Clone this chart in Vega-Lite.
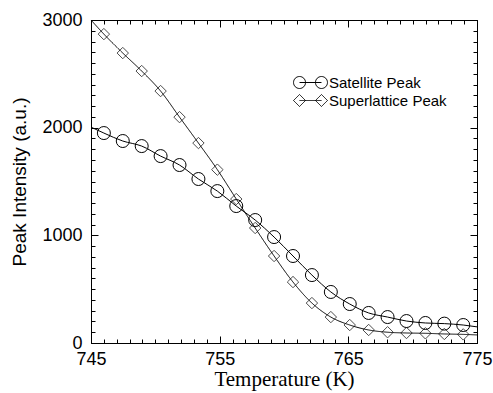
{
  "$schema": "https://vega.github.io/schema/vega-lite/v6.json",
  "width": 386,
  "height": 323,
  "autosize": {"type": "none"},
  "padding": {"left": 91, "top": 20, "right": 16, "bottom": 50},
  "background": "white",
  "config": {
    "view": {"stroke": null},
    "axis": {
      "ticks": false,
      "domainColor": "black",
      "domainWidth": 1,
      "labelColor": "black",
      "titleColor": "black",
      "gridColor": "black",
      "gridWidth": 1,
      "gridOpacity": 1,
      "labelFont": "Liberation Sans",
      "labelFontSize": 18,
      "labelOverlap": false,
      "labelFlush": false,
      "titleFontWeight": "normal"
    }
  },
  "data": {
    "values": [
      {"series": "Satellite Peak", "kind": "end", "T": 745, "I": 2005},
      {"series": "Satellite Peak", "kind": "pt", "T": 746.0, "I": 1950},
      {"series": "Satellite Peak", "kind": "pt", "T": 747.47, "I": 1876},
      {"series": "Satellite Peak", "kind": "pt", "T": 748.94, "I": 1829},
      {"series": "Satellite Peak", "kind": "pt", "T": 750.41, "I": 1736},
      {"series": "Satellite Peak", "kind": "pt", "T": 751.88, "I": 1653},
      {"series": "Satellite Peak", "kind": "pt", "T": 753.35, "I": 1523},
      {"series": "Satellite Peak", "kind": "pt", "T": 754.82, "I": 1411},
      {"series": "Satellite Peak", "kind": "pt", "T": 756.29, "I": 1272},
      {"series": "Satellite Peak", "kind": "pt", "T": 757.76, "I": 1142},
      {"series": "Satellite Peak", "kind": "pt", "T": 759.23, "I": 984},
      {"series": "Satellite Peak", "kind": "pt", "T": 760.7, "I": 808},
      {"series": "Satellite Peak", "kind": "pt", "T": 762.17, "I": 631},
      {"series": "Satellite Peak", "kind": "pt", "T": 763.64, "I": 474},
      {"series": "Satellite Peak", "kind": "pt", "T": 765.11, "I": 362},
      {"series": "Satellite Peak", "kind": "pt", "T": 766.58, "I": 279},
      {"series": "Satellite Peak", "kind": "pt", "T": 768.05, "I": 241},
      {"series": "Satellite Peak", "kind": "pt", "T": 769.52, "I": 204},
      {"series": "Satellite Peak", "kind": "pt", "T": 770.99, "I": 186},
      {"series": "Satellite Peak", "kind": "pt", "T": 772.46, "I": 180},
      {"series": "Satellite Peak", "kind": "pt", "T": 773.93, "I": 167},
      {"series": "Satellite Peak", "kind": "end", "T": 775, "I": 150},
      {"series": "Superlattice Peak", "kind": "end", "T": 745, "I": 3000},
      {"series": "Superlattice Peak", "kind": "pt", "T": 746.0, "I": 2869},
      {"series": "Superlattice Peak", "kind": "pt", "T": 747.47, "I": 2693},
      {"series": "Superlattice Peak", "kind": "pt", "T": 748.94, "I": 2526},
      {"series": "Superlattice Peak", "kind": "pt", "T": 750.41, "I": 2340},
      {"series": "Superlattice Peak", "kind": "pt", "T": 751.88, "I": 2098},
      {"series": "Superlattice Peak", "kind": "pt", "T": 753.35, "I": 1857},
      {"series": "Superlattice Peak", "kind": "pt", "T": 754.82, "I": 1610},
      {"series": "Superlattice Peak", "kind": "pt", "T": 756.29, "I": 1337},
      {"series": "Superlattice Peak", "kind": "pt", "T": 757.76, "I": 1068},
      {"series": "Superlattice Peak", "kind": "pt", "T": 759.23, "I": 808},
      {"series": "Superlattice Peak", "kind": "pt", "T": 760.7, "I": 566},
      {"series": "Superlattice Peak", "kind": "pt", "T": 762.17, "I": 371},
      {"series": "Superlattice Peak", "kind": "pt", "T": 763.64, "I": 241},
      {"series": "Superlattice Peak", "kind": "pt", "T": 765.11, "I": 167},
      {"series": "Superlattice Peak", "kind": "pt", "T": 766.58, "I": 121},
      {"series": "Superlattice Peak", "kind": "pt", "T": 768.05, "I": 100},
      {"series": "Superlattice Peak", "kind": "pt", "T": 769.52, "I": 93},
      {"series": "Superlattice Peak", "kind": "pt", "T": 770.99, "I": 90},
      {"series": "Superlattice Peak", "kind": "pt", "T": 772.46, "I": 84},
      {"series": "Superlattice Peak", "kind": "pt", "T": 773.93, "I": 80},
      {"series": "Superlattice Peak", "kind": "end", "T": 775, "I": 75}
    ]
  },
  "layer": [
    {
      "transform": [{"filter": "datum.series === 'Satellite Peak'"}],
      "mark": {"type": "line", "interpolate": "monotone", "color": "black", "strokeWidth": 1},
      "encoding": {
        "x": {
          "field": "T",
          "type": "quantitative",
          "scale": {"domain": [745, 775], "nice": false, "zero": false},
          "axis": {
            "orient": "bottom",
            "domain": true,
            "ticks": false,
            "tickSize": 0,
            "grid": true,
            "gridDash": [7, 309, 7, 0],
            "title": "Temperature (K)",
            "titleFont": "Liberation Serif",
            "titleFontSize": 21,
            "titlePadding": 0,
            "values": [745, 755, 765, 775],
            "labelPadding": 7
          }
        },
        "y": {
          "field": "I",
          "type": "quantitative",
          "scale": {"domain": [0, 3000], "nice": false},
          "axis": {
            "orient": "left",
            "domain": true,
            "ticks": false,
            "tickSize": 0,
            "grid": true,
            "gridDash": [7, 372, 7, 0],
            "title": "Peak Intensity (a.u.)",
            "titleFont": "Liberation Sans",
            "titleFontSize": 19,
            "titlePadding": 12,
            "format": "d",
            "values": [0, 1000, 2000, 3000],
            "labelPadding": 9
          }
        },
        "order": {"field": "T"}
      }
    },
    {
      "transform": [{"filter": "datum.series === 'Superlattice Peak'"}],
      "mark": {"type": "line", "interpolate": "monotone", "color": "black", "strokeWidth": 1},
      "encoding": {
        "x": {
          "field": "T",
          "type": "quantitative",
          "axis": {
            "orient": "top",
            "domain": true,
            "ticks": false,
            "tickSize": 0,
            "labels": false,
            "title": null,
            "grid": true,
            "gridDash": [4, 315, 4, 0],
            "values": [745,746,747,748,749,750,751,752,753,754,755,756,757,758,759,760,761,762,763,764,765,766,767,768,769,770,771,772,773,774,775]
          }
        },
        "y": {
          "field": "I",
          "type": "quantitative",
          "axis": {
            "orient": "right",
            "domain": true,
            "ticks": false,
            "tickSize": 0,
            "labels": false,
            "title": null,
            "grid": true,
            "gridDash": [4, 378, 4, 0],
            "values": [0,100,200,300,400,500,600,700,800,900,1000,1100,1200,1300,1400,1500,1600,1700,1800,1900,2000,2100,2200,2300,2400,2500,2600,2700,2800,2900,3000]
          }
        },
        "order": {"field": "T"},
        "strokeDash": {
          "field": "series",
          "type": "nominal",
          "scale": {"domain": ["Superlattice Peak", "Satellite Peak"], "range": [[1, 0], [1, 0]]},
          "legend": {
            "title": null,
            "values": ["Superlattice Peak"],
            "orient": "none",
            "legendX": 212,
            "legendY": 73,
            "padding": 0,
            "labelFont": "Liberation Sans",
            "labelFontSize": 15,
            "labelColor": "black",
            "labelOffset": 11,
            "symbolSize": 144,
            "symbolType": "M-2.83,0L-1.83,-1L-0.83,0L-1.83,1ZM0.83,0L1.83,-1L2.83,0L1.83,1ZM-1.83,0L1.83,0",
            "symbolStrokeColor": "black",
            "symbolStrokeWidth": 1,
            "symbolFillColor": "transparent"
          }
        }
      }
    },
    {
      "transform": [{"filter": "datum.kind === 'pt' && datum.series === 'Satellite Peak'"}],
      "mark": {"type": "point", "shape": "circle", "filled": false, "color": "black", "strokeWidth": 1, "size": 169},
      "encoding": {
        "x": {"field": "T", "type": "quantitative", "axis": null},
        "y": {"field": "I", "type": "quantitative", "axis": null},
        "opacity": {
          "field": "series",
          "type": "nominal",
          "scale": {"domain": ["Satellite Peak", "Superlattice Peak"], "range": [1, 1]},
          "legend": {
            "title": null,
            "values": ["Satellite Peak"],
            "orient": "none",
            "legendX": 212,
            "legendY": 55,
            "padding": 0,
            "labelFont": "Liberation Sans",
            "labelFontSize": 15,
            "labelColor": "black",
            "labelOffset": 11,
            "symbolSize": 144,
            "symbolType": "M-0.83,0A1,1,0,1,1,-2.83,0A1,1,0,1,1,-0.83,0M2.83,0A1,1,0,1,1,0.83,0A1,1,0,1,1,2.83,0M-1.83,0L1.83,0",
            "symbolStrokeColor": "black",
            "symbolStrokeWidth": 1,
            "symbolFillColor": "transparent"
          }
        }
      }
    },
    {
      "transform": [{"filter": "datum.kind === 'pt' && datum.series === 'Superlattice Peak'"}],
      "mark": {"type": "point", "shape": "diamond", "filled": false, "color": "black", "strokeWidth": 1, "size": 130},
      "encoding": {
        "x": {"field": "T", "type": "quantitative", "axis": null},
        "y": {"field": "I", "type": "quantitative", "axis": null}
      }
    }
  ],
  "resolve": {"axis": {"x": "independent", "y": "independent"}}
}
